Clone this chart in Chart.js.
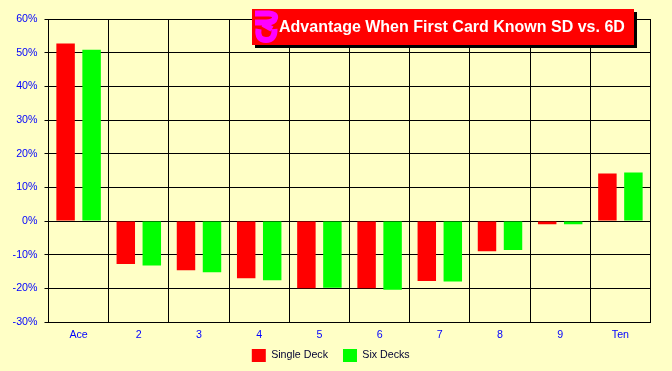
<!DOCTYPE html>
<html><head><meta charset="utf-8">
<script src="https://cdn.jsdelivr.net/npm/chart.js@4"></script>
<style>
html,body{margin:0;padding:0;background:#FFFFC6;overflow:hidden}
#wrap{position:relative;width:672px;height:371px}
#title{position:absolute;left:252px;top:9px;width:382px;height:36px;background:#f00;box-shadow:3px 3px 0 #000;
color:#fff;font:bold 16px "Liberation Sans",Arial,sans-serif;line-height:36px;white-space:pre;text-indent:27px}
#title svg{position:absolute;left:0;top:0}
</style></head><body>
<div id="wrap"><canvas id="c" width="672" height="371"></canvas>
<div id="title">Advantage When First Card Known SD vs. 6D<svg width="30" height="36" viewBox="0 0 30 36"><path d="M3 4.5 H17 Q24 5 23 9 Q22 13.5 14 13.5 H3 M11 15 L20 20 M6.5 20 Q5 31 14 31 Q23 31 22.5 20" fill="none" stroke="#f0f" stroke-width="6"/></svg></div>
</div>
<script>
const categories = ["Ace","2","3","4","5","6","7","8","9","Ten"];
const singleDeck = [52.7,-12.8,-14.6,-17.0,-20.0,-20.0,-17.8,-9.0,-1.0,14.1];
const sixDecks = [50.9,-13.2,-15.2,-17.6,-19.8,-20.4,-18.0,-8.6,-1.0,14.4];
const FONT = '"Liberation Sans",Arial,sans-serif';
const nudge = {id:'nudge',afterLayout(chart){
  chart.scales.x.bottom = chart.scales.x.top + 24;
  chart.legend.left += 5.5; chart.legend.right += 5.5;
}};
new Chart(document.getElementById('c'),{
  type:'bar',
  plugins:[nudge],
  data:{labels:categories,datasets:[
    {label:'Single Deck',data:singleDeck,backgroundColor:'#FF0000'},
    {label:'Six Decks',data:sixDecks,backgroundColor:'#00FF00'}
  ]},
  options:{
    responsive:false,animation:false,
    categoryPercentage:0.864,barPercentage:0.71,
    layout:{padding:{top:19,right:21.5,left:0,bottom:-1}},
    plugins:{
      title:{display:false},tooltip:{enabled:false},
      legend:{position:'bottom',labels:{boxWidth:14,boxHeight:13,padding:15,color:'#000033',font:{family:FONT,size:10.67}}}
    },
    scales:{
      x:{
        grid:{color:'#000',lineWidth:1,drawTicks:false,offset:true},
        border:{color:'#000'},
        ticks:{color:'#0000FF',font:{family:FONT,size:10.67},padding:7,maxRotation:0},
        afterFit(s){s.height=12;}
      },
      y:{
        min:-30,max:60,
        grid:{color:'#000',lineWidth:1,tickLength:4},
        border:{color:'#000'},
        ticks:{color:'#0000FF',font:{family:FONT,size:10.67},stepSize:10,padding:7,callback:v=>v+'%'},
        afterFit(s){s.width=48.5;}
      }
    }
  }
});
</script>
</body></html>
